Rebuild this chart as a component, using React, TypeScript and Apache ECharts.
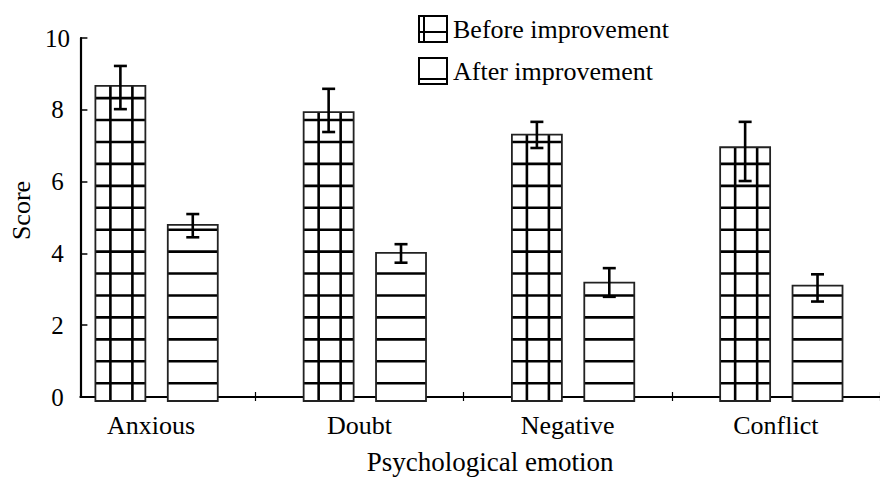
import React, { useEffect, useRef } from "react";
import * as echarts from "echarts";

const categories = ["Anxious", "Doubt", "Negative", "Conflict"];
const seriesNames = ["Before improvement", "After improvement"];
const beforeValues = [8.68, 7.96, 7.34, 6.99];
const beforeUpper = [9.23, 8.6, 7.69, 7.69];
const beforeLower = [8.04, 7.41, 6.97, 6.06];
const afterValues = [4.85, 4.08, 3.26, 3.18];
const afterUpper = [5.15, 4.32, 3.66, 3.49];
const afterLower = [4.51, 3.81, 2.87, 2.74];
const yTicks = [0, 2, 4, 6, 8, 10];

const FONT = "'Liberation Serif', 'Times New Roman', serif";

const ICON_BEFORE =
  "path://M0 0H30V2H0Z M0 26H30V28H0Z M0 0H2V28H0Z M28 0H30V28H28Z M5 0H7V28H5Z M0 16H30V18H0Z";
const ICON_AFTER =
  "path://M0 0H30V2H0Z M0 26H30V28H0Z M0 0H2V28H0Z M28 0H30V28H28Z M0 21H30V23H0Z";

function makeRender(offsetFrac: number, verticals: number[]) {
  return (params: any, api: any) => {
    const i = api.value(0);
    const v = api.value(1);
    const up = api.value(2);
    const lo = api.value(3);
    const c = api.coord([i, v]);
    const base = api.coord([i, 0]);
    const band = api.size([1, 0])[0];
    const w = band * 0.24;
    const cx = c[0] + offsetFrac * band;
    const x0 = cx - w / 2;
    const top = c[1];
    const bottom = base[1];
    const children: any[] = [];
    children.push({
      type: "rect",
      shape: { x: x0, y: top, width: w, height: bottom - top },
      style: { fill: "#fff", stroke: "none" },
    });
    for (let y = bottom - 17.8; y > top + 1.5; y -= 21.93) {
      children.push({
        type: "line",
        shape: { x1: x0, y1: y, x2: x0 + w, y2: y },
        style: { stroke: "#000", lineWidth: 2.6 },
      });
    }
    verticals.forEach((dx) => {
      children.push({
        type: "line",
        shape: { x1: x0 + dx, y1: top, x2: x0 + dx, y2: bottom },
        style: { stroke: "#000", lineWidth: 2.6 },
      });
    });
    children.push({
      type: "rect",
      shape: { x: x0, y: top, width: w, height: bottom - top },
      style: { fill: "none", stroke: "#222", lineWidth: 1.8 },
    });
    const yU = api.coord([i, up])[1];
    const yL = api.coord([i, lo])[1];
    children.push({
      type: "line",
      shape: { x1: cx, y1: yU, x2: cx, y2: yL },
      style: { stroke: "#000", lineWidth: 2.6 },
    });
    [yU, yL].forEach((yy) => {
      children.push({
        type: "line",
        shape: { x1: cx - 6.5, y1: yy, x2: cx + 6.5, y2: yy },
        style: { stroke: "#000", lineWidth: 2.6 },
      });
    });
    return { type: "group", children };
  };
}

export default function App() {
  const ref = useRef<HTMLDivElement>(null);
  useEffect(() => {
    if (!ref.current) return;
    const chart = echarts.init(ref.current, null, { renderer: "svg" });
    const beforeData = categories.map((_, i) => [i, beforeValues[i], beforeUpper[i], beforeLower[i]]);
    const afterData = categories.map((_, i) => [i, afterValues[i], afterUpper[i], afterLower[i]]);
    chart.setOption({
      animation: false,
      backgroundColor: "#fff",
      textStyle: { fontFamily: FONT, color: "#000" },
      legend: {
        orient: "vertical",
        left: 413,
        top: 10,
        itemWidth: 30,
        itemHeight: 28,
        itemGap: 14,
        textStyle: { fontFamily: FONT, fontSize: 26, color: "#000" },
        data: [
          { name: seriesNames[0], icon: ICON_BEFORE },
          { name: seriesNames[1], icon: ICON_AFTER },
        ],
      },
      grid: [
        { left: 70, right: 0, top: 38, bottom: 79 },
        { left: 47, right: -7, top: 38, bottom: 79 },
      ],
      xAxis: [
        {
          type: "value",
          gridIndex: 0,
          min: 0,
          max: 1,
          axisLine: { show: true, lineStyle: { color: "#000", width: 2.2 } },
          axisTick: { show: false },
          axisLabel: { show: false },
          splitLine: { show: false },
          name: "Psychological emotion",
          nameLocation: "middle",
          nameGap: 51,
          nameTextStyle: { fontFamily: FONT, fontSize: 27, color: "#000", padding: [0, 0, 0, 20] },
        },
        {
          type: "category",
          gridIndex: 1,
          data: categories,
          axisLine: { show: false },
          axisTick: {
            show: true,
            inside: true,
            length: 9,
            interval: (index: number) => index > 0,
            lineStyle: { color: "#000", width: 1.2 },
          },
          axisLabel: { fontFamily: FONT, fontSize: 26, color: "#000", margin: 11 },
          splitLine: { show: false },
        },
      ],
      yAxis: [
        {
          type: "value",
          gridIndex: 0,
          min: 0,
          max: 10,
          interval: 2,
          axisLine: { show: true, lineStyle: { color: "#000", width: 2.2 } },
          axisTick: { show: true, inside: true, length: 7, lineStyle: { color: "#000", width: 1.5 } },
          axisLabel: {
            fontFamily: FONT,
            fontSize: 25,
            color: "#000",
            margin: 23,
            align: "center",
            formatter: (v: number) => (yTicks.includes(v) ? String(v) : ""),
          },
          splitLine: { show: false },
          name: "Score",
          nameLocation: "middle",
          nameGap: 43,
          nameTextStyle: { fontFamily: FONT, fontSize: 26, color: "#000", padding: [0, 0, 0, 14] },
        },
        { type: "value", gridIndex: 1, min: 0, max: 10, show: false },
      ],
      series: [
        {
          name: seriesNames[0],
          type: "custom",
          xAxisIndex: 1,
          yAxisIndex: 1,
          itemStyle: { color: "#000" },
          encode: { x: 0, y: [1, 2, 3] },
          renderItem: makeRender(-0.1476, [15, 37]),
          data: beforeData,
        },
        {
          name: seriesNames[1],
          type: "custom",
          xAxisIndex: 1,
          yAxisIndex: 1,
          itemStyle: { color: "#000" },
          encode: { x: 0, y: [1, 2, 3] },
          renderItem: makeRender(0.2, []),
          data: afterData,
        },
      ],
    });
    return () => chart.dispose();
  }, []);
  return (
    <div
      ref={ref}
      style={{ position: "absolute", left: 0, top: 0, width: 880, height: 480, background: "#fff" }}
    />
  );
}
